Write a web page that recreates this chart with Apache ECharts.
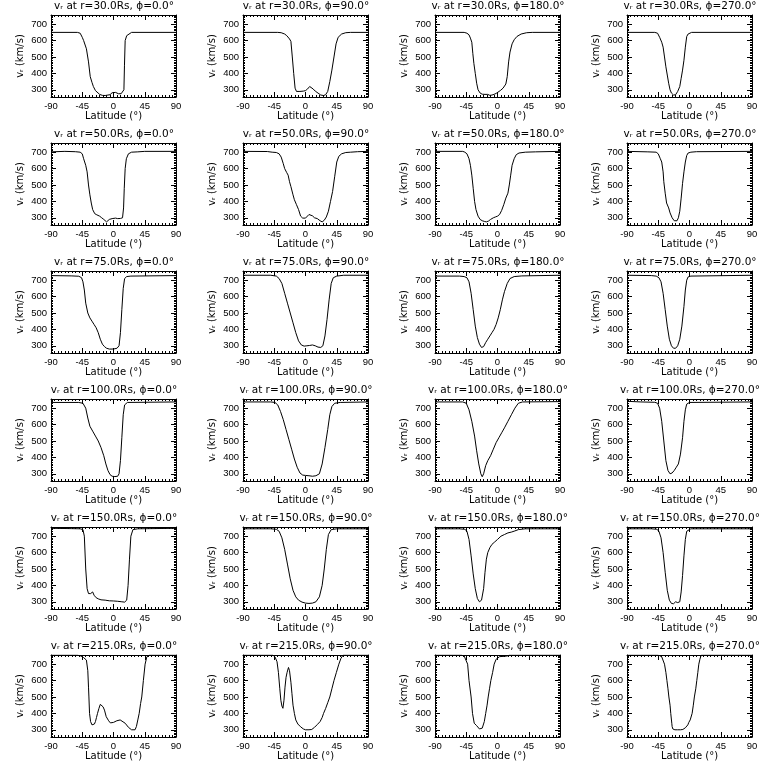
<!DOCTYPE html>
<html><head><meta charset="utf-8">
<script src="https://cdn.jsdelivr.net/npm/echarts@6/dist/echarts.min.js"></script>
<style>html,body{margin:0;background:#fff}#c{width:768px;height:768px}</style>
</head><body><div id="c"></div>
<script>
const radii = ['30.0', '50.0', '75.0', '100.0', '150.0', '215.0'];
const phis = ['0.0', '90.0', '180.0', '270.0'];
const latTicks = [-90, -45, 0, 45, 90];
const vTicks = [300, 400, 500, 600, 700];
const vMinorTicks = [260,270,280,290,310,320,330,340,350,360,370,380,390,410,420,430,440,450,460,470,480,490,510,520,530,540,550,560,570,580,590,610,620,630,640,650,660,670,680,690,710,720,730,740,750];
const vMin = 256, vMax = 756;

// r = 30 Rs
const r30_p0 = [[-90,650],[-52,650],[-48,645],[-45,620],[-43,600],[-39,550],[-36,470],[-33.5,380],[-31,345],[-29,320],[-26,295],[-24,285],[-20,272],[-16,266],[-12,265],[-8,268],[-5,270],[-2,282],[0,285],[3,284],[5,278],[7,276],[9,268],[11,276],[13.4,280],[15,300],[15.8,450],[16.8,600],[19,630],[21.5,642],[26,650],[90,650]];
const r30_p90 = [[-90,650],[-40,650],[-35,648],[-30,640],[-27,630],[-23,610],[-21,595],[-19,500],[-17,400],[-15,310],[-13,290],[-11,285],[-8,290],[-6,300],[-3,292],[0,295],[3,305],[6,320],[8,318],[11,305],[14,292],[18,280],[22,268],[26,265],[29,270],[32,290],[35,350],[38,420],[41,500],[44,580],[47,620],[52,640],[58,648],[65,650],[90,650]];
const r30_p180 = [[-90,650],[-48,650],[-44,645],[-41,635],[-39,615],[-37,590],[-35.5,520],[-34,460],[-32,400],[-30,340],[-28,300],[-25,280],[-22,273],[-18,272],[-14,272],[-11,266],[-8,268],[-5,272],[-2,278],[0,282],[4,295],[8,310],[12,335],[14,380],[16,470],[18,530],[21,580],[24,605],[28,625],[34,640],[42,648],[50,650],[90,650]];
const r30_p270 = [[-90,650],[-50,650],[-46,645],[-43,620],[-40,590],[-38,560],[-36,500],[-34,440],[-32,390],[-30,340],[-28,300],[-26,280],[-23,268],[-20,270],[-17,290],[-14,320],[-12,370],[-10,420],[-8,480],[-6,560],[-4,625],[-2,640],[0,645],[3,650],[90,650]];
// r = 50 Rs
const r50_p0 = [[-90,702],[-70,705],[-55,703],[-48,700],[-45,690],[-43,660],[-40,620],[-38,580],[-36,500],[-34,440],[-32,390],[-30,350],[-27,325],[-24,318],[-20,310],[-17,300],[-14,290],[-12,280],[-10,275],[-8,280],[-6,290],[-4,288],[-2,295],[0,300],[3,298],[6,295],[10,296],[13,300],[14.5,360],[15.5,480],[16.8,600],[18.5,660],[21.5,690],[26,700],[35,702],[45,705],[90,705]];
const r50_p90 = [[-90,705],[-55,704],[-48,700],[-42,698],[-38,690],[-35,670],[-32,630],[-30,600],[-27,575],[-25,560],[-23,520],[-21,490],[-18,440],[-16,410],[-13,380],[-10,350],[-7,310],[-4,298],[-2,295],[0,298],[2,305],[5,320],[7,322],[10,312],[13,300],[17,295],[21,282],[24,275],[27,285],[30,305],[33,340],[36,400],[39,460],[42,550],[45,640],[48,675],[52,690],[58,698],[65,700],[75,703],[90,705]];
const r50_p180 = [[-90,705],[-50,705],[-47,700],[-44,690],[-41,660],[-39,620],[-37,560],[-35,480],[-33,400],[-31,350],[-28,310],[-25,290],[-22,282],[-19,278],[-16,275],[-13,280],[-10,290],[-6,300],[-3,305],[0,310],[3,320],[6,345],[9,380],[12,420],[15,450],[17,500],[19,560],[21,620],[24,660],[27,685],[31,695],[40,700],[55,702],[90,705]];
const r50_p270 = [[-90,705],[-60,702],[-48,700],[-45,690],[-42,660],[-40,640],[-38,580],[-37,520],[-35,450],[-33,390],[-30,360],[-28,330],[-25,300],[-22,282],[-20,278],[-18,282],[-16,300],[-14,340],[-12,420],[-10,510],[-8,580],[-6,640],[-4,680],[-2,695],[2,700],[10,703],[90,705]];
// r = 75 Rs
const r75_p0 = [[-90,728],[-60,726],[-50,724],[-46,715],[-44,690],[-42,640],[-40,560],[-37,500],[-34,470],[-31,450],[-28,430],[-25,410],[-22,380],[-19,340],[-16,310],[-13,295],[-10,285],[-6,280],[-2,280],[2,282],[5,285],[8,300],[10,380],[12,520],[14,650],[16,710],[19,722],[25,725],[90,728]];
const r75_p90 = [[-90,730],[-50,730],[-42,725],[-38,710],[-34,680],[-30,620],[-26,560],[-22,500],[-18,440],[-14,380],[-10,330],[-6,305],[-2,298],[2,300],[6,302],[10,305],[14,300],[18,292],[22,290],[25,300],[28,360],[31,460],[34,580],[37,680],[40,715],[45,725],[55,730],[90,730]];
const r75_p180 = [[-90,725],[-55,725],[-48,722],[-44,715],[-41,690],[-38,620],[-35,520],[-32,420],[-29,350],[-26,310],[-23,290],[-20,295],[-17,320],[-14,340],[-11,360],[-8,380],[-5,400],[-2,430],[1,470],[4,520],[7,580],[10,630],[14,680],[18,710],[24,722],[35,726],[90,730]];
const r75_p270 = [[-90,730],[-55,728],[-48,725],[-44,715],[-41,690],[-38,620],[-35,520],[-32,420],[-29,340],[-26,300],[-23,285],[-20,285],[-17,300],[-14,340],[-11,420],[-8,540],[-6,640],[-4,700],[-2,720],[2,725],[90,730]];
// r = 100 Rs
const r100_p0 = [[-90,735],[-50,735],[-44,730],[-40,700],[-37,640],[-34,590],[-30,560],[-26,530],[-22,500],[-18,460],[-14,410],[-11,360],[-8,320],[-5,295],[-2,285],[2,283],[6,285],[8,300],[10,380],[12,520],[14,660],[16,720],[20,735],[90,738]];
const r100_p90 = [[-90,738],[-50,738],[-44,735],[-40,720],[-36,680],[-32,630],[-28,570],[-24,510],[-20,450],[-16,390],[-12,340],[-8,305],[-4,292],[0,290],[5,288],[10,285],[15,288],[20,300],[24,360],[28,460],[32,570],[35,660],[38,710],[42,730],[50,735],[90,738]];
const r100_p180 = [[-90,738],[-50,738],[-45,730],[-41,690],[-37,620],[-33,530],[-30,440],[-27,360],[-24,300],[-22,282],[-20,300],[-17,350],[-14,380],[-10,410],[-6,450],[-2,490],[2,520],[6,550],[10,580],[15,620],[20,660],[25,700],[30,730],[36,738],[90,740]];
const r100_p270 = [[-90,742],[-70,738],[-50,736],[-46,730],[-43,700],[-40,620],[-37,500],[-34,380],[-31,320],[-28,300],[-25,305],[-22,320],[-19,340],[-16,360],[-13,420],[-10,520],[-8,620],[-6,690],[-4,725],[0,735],[90,738]];
// r = 150 Rs
const r150_p0 = [[-90,748],[-60,746],[-48,745],[-44,740],[-42,700],[-40,500],[-38,380],[-36,350],[-33,350],[-30,360],[-28,340],[-25,325],[-22,318],[-18,312],[-12,310],[-6,306],[0,305],[6,303],[12,300],[16,298],[19,310],[21,400],[23,560],[25,700],[28,740],[35,745],[90,748]];
const r150_p90 = [[-90,745],[-50,745],[-42,742],[-38,730],[-34,690],[-30,620],[-26,530],[-22,440],[-18,370],[-14,330],[-10,310],[-5,298],[0,292],[5,290],[10,292],[15,300],[20,330],[24,400],[27,500],[30,620],[33,710],[37,740],[45,745],[90,745]];
const r150_p180 = [[-90,745],[-55,745],[-47,742],[-44,730],[-41,680],[-38,580],[-35,470],[-32,380],[-29,320],[-26,300],[-23,310],[-20,380],[-18,480],[-16,560],[-14,600],[-11,630],[-8,650],[-4,665],[0,680],[5,700],[10,710],[15,720],[20,725],[25,732],[30,740],[40,745],[90,745]];
const r150_p270 = [[-90,745],[-55,745],[-47,742],[-44,730],[-41,690],[-38,600],[-35,480],[-32,370],[-29,310],[-26,290],[-23,288],[-20,300],[-17,295],[-14,300],[-12,360],[-10,460],[-8,580],[-6,680],[-4,730],[-2,742],[2,745],[90,745]];
// r = 215 Rs
const r215_p0 = [[-90,755],[-52,755],[-47,750],[-43,740],[-39,725],[-37,660],[-36,560],[-35.4,500],[-34.5,400],[-33,350],[-31,330],[-29,326],[-27.5,335],[-26,350],[-24.5,375],[-23,400],[-21,430],[-19,455],[-17,462],[-15,440],[-13,420],[-10.5,380],[-7,355],[-4.5,342],[-2.4,340],[0,345],[4.8,355],[9.6,360],[12,355],[16.8,340],[21.5,315],[26,300],[28.7,296],[31,300],[33,320],[35,360],[37,400],[39,460],[40.7,500],[43,600],[45.5,700],[48,745],[52,755],[90,755]];
const r215_p90 = [[-90,755],[-47,755],[-44,745],[-41,715],[-39,650],[-37,550],[-35.5,480],[-34,445],[-32.5,431],[-31,480],[-29.5,560],[-28,620],[-26.5,650],[-24.5,680],[-23,660],[-21,590],[-19.5,520],[-18,450],[-16,400],[-14,360],[-11,335],[-7,318],[-3,305],[0,300],[5,300],[9,302],[13,315],[17,332],[21,350],[24,375],[26,400],[29,430],[32,465],[35,500],[38,550],[41,600],[44.5,650],[48,700],[51,735],[54,755],[90,755]];
const r215_p180 = [[-90,755],[-52,755],[-48,750],[-45.5,740],[-43,700],[-41,600],[-38,500],[-36,400],[-33.5,340],[-30,325],[-28,318],[-26,305],[-24,296],[-22,310],[-19,350],[-17,400],[-15,450],[-13.4,500],[-11.5,550],[-9.6,600],[-7,650],[-4.8,700],[-2,730],[0,740],[3,746],[10,748],[14,750],[17,755],[90,755]];
const r215_p270 = [[-90,755],[-46,755],[-43,752],[-40,745],[-38,740],[-36,700],[-34,650],[-32.5,600],[-31,550],[-29.7,500],[-28,450],[-27,400],[-25.5,340],[-25,320],[-24,305],[-21,300],[-17,300],[-13,300],[-9.6,302],[-6,312],[-2.4,330],[-1,345],[1,360],[3.8,400],[5.5,450],[7,500],[9,550],[10.5,600],[12,650],[13.4,700],[15,730],[16.8,755],[90,755]];

const curves = [
  [r30_p0, r30_p90, r30_p180, r30_p270],
  [r50_p0, r50_p90, r50_p180, r50_p270],
  [r75_p0, r75_p90, r75_p180, r75_p270],
  [r100_p0, r100_p90, r100_p180, r100_p270],
  [r150_p0, r150_p90, r150_p180, r150_p270],
  [r215_p0, r215_p90, r215_p180, r215_p270]
];

const FONT = '"DejaVu Sans", "Liberation Sans", sans-serif';
const TICKFONT = '"Liberation Sans", "DejaVu Sans", sans-serif';
const BLACK = '#000';
const grids = [], xAxes = [], yAxes = [], series = [], graphics = [];

for (let r = 0; r < radii.length; r++) {
  for (let c = 0; c < phis.length; c++) {
    const gi = r * phis.length + c;
    const left = c * 192 + 51, top = r * 128 + 15;
    grids.push({left: left, top: top, width: 125, height: 82, containLabel: false});
    const xBase = {
      gridIndex: gi, type: 'value', min: -90, max: 90, interval: 45,
      axisLine: {show: true, onZero: false, lineStyle: {color: BLACK, width: 1}},
      axisTick: {show: true, inside: true, length: 5, lineStyle: {color: BLACK, width: 1}},
      minorTick: {show: true, splitNumber: 9, length: 2, lineStyle: {color: BLACK, width: 1}},
      splitLine: {show: false}, minorSplitLine: {show: false}
    };
    xAxes.push(Object.assign({}, xBase, {
      position: 'bottom',
      axisLabel: {show: true, color: BLACK, fontSize: 9.5, fontFamily: TICKFONT, margin: 4,
        customValues: latTicks},
      name: 'Latitude (°)', nameLocation: 'middle', nameGap: 14,
      nameTextStyle: {color: BLACK, fontSize: 10, fontFamily: FONT}
    }));
    xAxes.push(Object.assign({}, xBase, {position: 'top', axisLabel: {show: false}}));

    const yBase = {
      gridIndex: gi, type: 'value', min: vMin, max: vMax,
      splitLine: {show: false}, axisLabel: {show: false}
    };
    // left major
    yAxes.push(Object.assign({}, yBase, {
      position: 'left',
      axisLine: {show: true, onZero: false, lineStyle: {color: BLACK, width: 1}},
      axisTick: {show: true, inside: true, length: 5, customValues: vTicks, lineStyle: {color: BLACK}},
      axisLabel: {show: true, customValues: vTicks, color: BLACK, fontSize: 9.5, fontFamily: TICKFONT, margin: 4},
      name: 'vᵣ (km/s)', nameLocation: 'middle', nameGap: 26, nameRotate: 90,
      nameTextStyle: {color: BLACK, fontSize: 10, fontFamily: FONT}
    }));
    // left minor
    yAxes.push(Object.assign({}, yBase, {
      position: 'left',
      axisLine: {show: false, onZero: false},
      axisTick: {show: true, inside: true, length: 2, customValues: vMinorTicks, lineStyle: {color: BLACK}}
    }));
    // right major
    yAxes.push(Object.assign({}, yBase, {
      position: 'right',
      axisLine: {show: true, onZero: false, lineStyle: {color: BLACK, width: 1}},
      axisTick: {show: true, inside: true, length: 5, customValues: vTicks, lineStyle: {color: BLACK}}
    }));
    // right minor
    yAxes.push(Object.assign({}, yBase, {
      position: 'right',
      axisLine: {show: false, onZero: false},
      axisTick: {show: true, inside: true, length: 2, customValues: vMinorTicks, lineStyle: {color: BLACK}}
    }));

    series.push({
      type: 'line', xAxisIndex: 2 * gi, yAxisIndex: 4 * gi,
      data: curves[r][c], showSymbol: false, symbol: 'none',
      lineStyle: {color: BLACK, width: 1}, silent: true
    });

    graphics.push({
      type: 'text', x: c * 192 + 114, y: r * 128 + 1, silent: true,
      style: {
        text: 'vᵣ at r=' + radii[r] + 'Rs, ϕ=' + phis[c] + '°',
        fill: BLACK, font: '10.5px ' + FONT,
        align: 'center', verticalAlign: 'top', textAlign: 'center', textVerticalAlign: 'top'
      }
    });
  }
}

const chart = echarts.init(document.getElementById('c'), null, {renderer: 'canvas'});
chart.setOption({
  animation: false,
  backgroundColor: '#fff',
  grid: grids, xAxis: xAxes, yAxis: yAxes, series: series, graphic: graphics
});
</script>
</body></html>
